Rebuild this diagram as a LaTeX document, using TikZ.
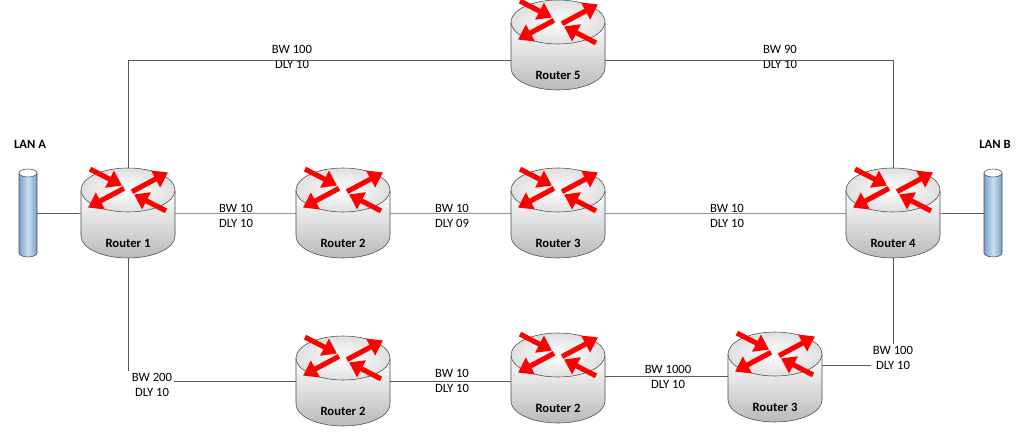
\documentclass[tikz,border=0pt]{standalone}
\usepackage{fontspec}
\setmainfont{Carlito}
\usetikzlibrary{arrows.meta}
\definecolor{lanblue}{RGB}{120,160,200}
\definecolor{lanlight}{RGB}{200,222,240}
\begin{document}
\begin{tikzpicture}[x=0.025cm,y=0.025cm,
lbl/.style={font=\fontsize{9}{11}\selectfont, align=center, inner sep=1pt},
lan/.style={font=\fontsize{9}{11}\selectfont\bfseries, inner sep=0},
link/.style={draw=gray!70!black, line width=0.5pt},
rarr/.style={line width=3.6pt, -{Triangle[length=10pt,width=13pt]}},
router/.pic={
  \draw[gray!60!black, top color=white, bottom color=gray!55] (-47,23) -- (-47,-23)
    arc[start angle=180,end angle=360,x radius=47,y radius=22] -- (47,23);
  \draw[gray!60!black, inner color=white, outer color=gray!25] (0,23) ellipse[x radius=47,y radius=22];
  \begin{scope}[shift={(0,23)}, yscale=0.55]
    \draw[rarr, red] (4,-3) -- (40,32);
    \draw[rarr, red] (-4,3) -- (-40,-32);
    \draw[rarr, red] (-38,38) -- (-6,8);
    \draw[rarr, red] (38,-38) -- (6,-8);
  \end{scope}
  \node[font=\fontsize{9}{11}\selectfont\bfseries] at (0,-30) {#1};
},
lanbar/.pic={
  \draw[gray!60!black, left color=lanblue, right color=lanblue, middle color=lanlight]
    (-9,40) -- (-9,-40) arc[start angle=180,end angle=360,x radius=9,y radius=4] -- (9,40);
  \draw[gray!60!black, fill=white] (0,40) ellipse[x radius=9,y radius=4];
}]
\useasboundingbox (0,0) rectangle (1024,-433);
% positions
\coordinate (r1) at (128,-213);
\coordinate (r2) at (343,-213);
\coordinate (r3) at (558,-213);
\coordinate (r4) at (893,-213);
\coordinate (r5) at (558,-45);
\coordinate (r6) at (343,-381);
\coordinate (r7) at (558,-378);
\coordinate (r8) at (775,-377);
\coordinate (lana) at (28,-213);
\coordinate (lanb) at (993,-213);
% labels
\node[lbl] (l1) at (292,-57) {BW 100\\DLY 10};
\node[lbl] (l2) at (780,-57) {BW 90\\DLY 10};
\node[lbl] (l3) at (236,-216) {BW 10\\DLY 10};
\node[lbl] (l4) at (452,-216) {BW 10\\DLY 09};
\node[lbl] (l5) at (727,-216) {BW 10\\DLY 10};
\node[lbl] (l6) at (152,-385) {BW 200\\DLY 10};
\node[lbl] (l7) at (452,-381) {BW 10\\DLY 10};
\node[lbl] (l8) at (668,-377) {BW 1000\\DLY 10};
\node[lbl] (l9) at (893,-358) {BW 100\\DLY 10};
% links
\draw[link] (lana) -- (r1) -- (r2) -- (r3) -- (r4) -- (lanb);
\draw[link] (r1) |- ([yshift=-11]r5);
\draw[link] ([yshift=-11]r5) -| (r4);
\draw[link] (r1) -- (r1 |- l6.north);
\draw[link] (l6.east |- r6) -- (r6);
\draw[link] (r6) -- (r6 -| r7);
\draw[link] ([yshift=1]r7) -- ([yshift=1]r7 -| r8);
\draw[link] (r4) -- (l9.north -| r4);
\draw[link] ([yshift=8]r8) -- ([yshift=8]r8 -| l9.west);
% devices
\pic at (r1) {router={Router 1}};
\pic at (r2) {router={Router 2}};
\pic at (r3) {router={Router 3}};
\pic at (r4) {router={Router 4}};
\pic at (r5) {router={Router 5}};
\pic at (r6) {router={Router 2}};
\pic at (r7) {router={Router 2}};
\pic at (r8) {router={Router 3}};
\pic at (lana) {lanbar};
\pic at (lanb) {lanbar};
\node[lan] (la) at (30,-144) {LAN A};
\node[lan] (lb) at (995,-144) {LAN B};
\end{tikzpicture}
\end{document}
